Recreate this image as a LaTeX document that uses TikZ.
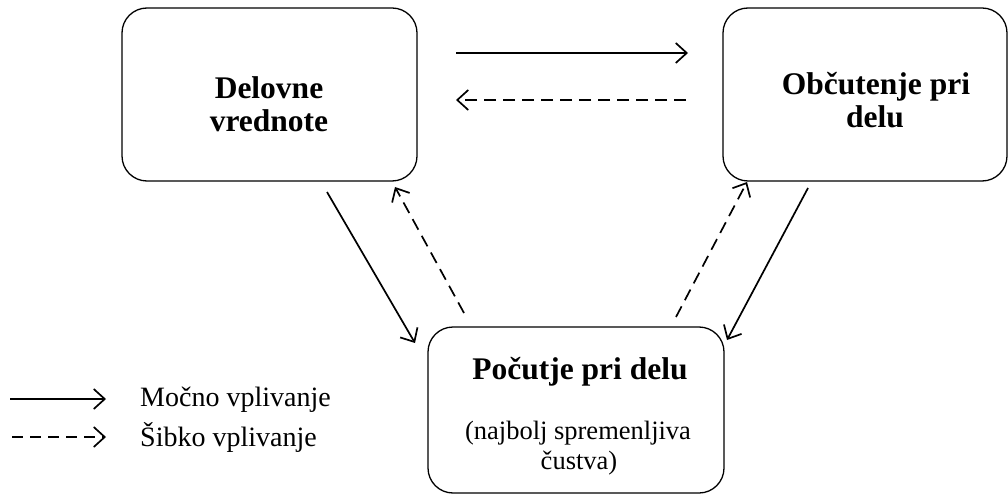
\documentclass[tikz,border=0pt]{standalone}
\usepackage{fontspec}
\setmainfont{Liberation Serif}
\usetikzlibrary{arrows.meta}
\begin{document}
\begin{tikzpicture}[x=1pt,y=-1pt,
  box/.style={draw, line width=1.3pt, rounded corners=25pt},
  title/.style={font=\fontsize{31.5}{36}\selectfont\bfseries, anchor=base, inner sep=0pt},
  note/.style={font=\fontsize{26.5}{30}\selectfont, anchor=base, inner sep=0pt},
  legend/.style={font=\fontsize{28}{32}\selectfont, anchor=west, inner sep=0pt},
  strong/.style={line width=1.7pt, -{Straight Barb[length=11pt,width=20pt,line width=1.7pt]}},
  weak/.style={strong, dash pattern=on 12pt off 7pt}]
\useasboundingbox (0,0) rectangle (1008,494);
% three rounded boxes
\draw[box] (122,8) rectangle (417,181);
\draw[box] (723,8) rectangle (1007,181);
\draw[box] (428,327) rectangle (724,493);
% box texts, one node per line, placed on their baselines
\node[title] (t1a) at (269,99) {Delovne};
\node[title] (t1b) at (269,132) {vrednote};
\node[title] (t2a) at (876,95) {Občutenje pri};
\node[title] (t2b) at (875,128) {delu};
\node[title] (t3a) at (580,379) {Počutje pri delu};
\node[note] (t3b) at (578,439) {(najbolj spremenljiva};
\node[note] (t3c) at (579,469) {čustva)};
% arrow end points
\coordinate (a1s) at (456,53);  \coordinate (a1e) at (688,53);
\coordinate (a2s) at (686,100); \coordinate (a2e) at (456,100);
\coordinate (a3s) at (327,192); \coordinate (a3e) at (415,343);
\coordinate (a4s) at (464,313); \coordinate (a4e) at (395,187);
\coordinate (a5s) at (676,317); \coordinate (a5e) at (747,182);
\coordinate (a6s) at (808,188); \coordinate (a6e) at (727,340);
\draw[strong] (a1s) -- (a1e);
\draw[weak] (a2s) -- (a2e);
\draw[strong] (a3s) -- (a3e);
\draw[weak] (a4s) -- (a4e);
\draw[weak] (a5s) -- (a5e);
\draw[strong] (a6s) -- (a6e);
% legend
\coordinate (l1s) at (10,399); \coordinate (l1e) at (106,399);
\coordinate (l2s) at (12,437); \coordinate (l2e) at (106,437);
\draw[strong] (l1s) -- (l1e);
\draw[weak, dash pattern=on 11pt off 7pt] (l2s) -- (l2e);
\node[legend] (m1) at (140,400) {Močno vplivanje};
\node[legend] (m2) at (140,437) {Šibko vplivanje};
\end{tikzpicture}
\end{document}
